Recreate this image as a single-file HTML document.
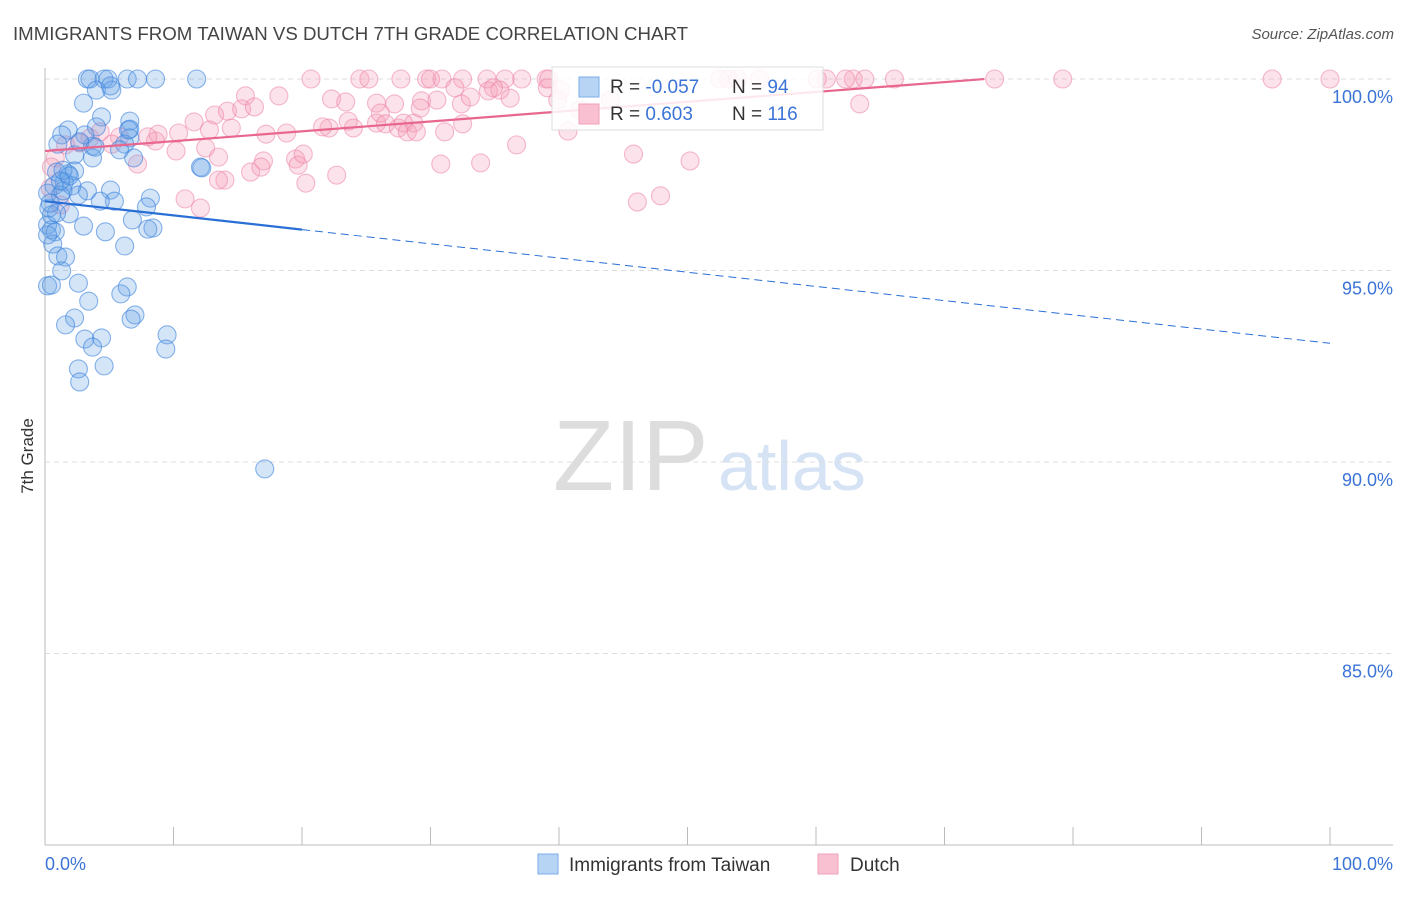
<!DOCTYPE html>
<html><head><meta charset="utf-8"><style>
body{margin:0;background:#fff;font-family:"Liberation Sans",sans-serif}
svg text{font-family:"Liberation Sans",sans-serif}
</style></head><body>
<svg id="chart" width="1406" height="892" xmlns="http://www.w3.org/2000/svg">
<text x="13" y="40" font-size="18" fill="#444" textLength="675" lengthAdjust="spacingAndGlyphs">IMMIGRANTS FROM TAIWAN VS DUTCH 7TH GRADE CORRELATION CHART</text>
<text x="1394" y="39" font-size="15" fill="#555" font-style="italic" text-anchor="end">Source: ZipAtlas.com</text>
<text transform="translate(33,456) rotate(-90)" font-size="17" fill="#333" text-anchor="middle">7th Grade</text>
<g>
<text x="553" y="490" font-size="100" fill="#ddd" font-family="Liberation Serif,serif">ZIP</text>
<text x="718" y="490" font-size="70" fill="#d5e3f5">atlas</text>
</g>
<g id="grid"></g><g id="axes"></g><g id="pts"></g><g id="trends"></g>
<g>
<rect x="552" y="67" width="271" height="63" fill="#fff" fill-opacity="0.85" stroke="#ddd"/>
<rect x="579" y="77" width="20" height="20" fill="#b8d4f5" stroke="#7aaeea"/>
<rect x="579" y="104" width="20" height="20" fill="#f8c0d0" stroke="#f0a0b8"/>
<text x="610" y="93" font-size="19" fill="#333">R = <tspan fill="#3b74d6">-0.057</tspan></text>
<text x="732" y="93" font-size="19" fill="#333">N = <tspan fill="#3b74d6"> 94</tspan></text>
<text x="610" y="120" font-size="19" fill="#333">R = <tspan fill="#3b74d6">  0.603</tspan></text>
<text x="732" y="120" font-size="19" fill="#333">N = <tspan fill="#3b74d6">116</tspan></text>
</g>
<g>
<rect x="538" y="854" width="20" height="20" fill="#b8d4f5" stroke="#7aaeea"/>
<text x="569" y="871" font-size="19" fill="#333">Immigrants from Taiwan</text>
<rect x="818" y="854" width="20" height="20" fill="#f8c0d0" stroke="#f0a0b8"/>
<text x="850" y="871" font-size="19" fill="#333">Dutch</text>
</g>
</svg>
<script>
const yTicks=[100,95,90,85];
const yTickLabels=["100.0%","95.0%","90.0%","85.0%"];
const xTicks=[0,10,20,30,40,50,60,70,80,90,100];
const blueX=[3.3,3.5,4.6,4.9,6.4,7.2,8.6,11.8,4.0,5.2,3.0,4.4,6.6,6.6,1.8,4.0,1.3,3.1,6.6,1.0,3.7,6.2,2.3,3.7,6.9,0.9,1.8,2.3,1.5,2.1,3.3,5.1,0.7,0.2,1.2,1.4,2.6,8.2,5.4,4.3,7.9,1.9,6.8,3.0,4.7,0.2,0.5,0.8,8.4,8.0,0.6,6.2,1.0,1.6,1.3,0.2,0.5,2.6,6.4,3.4,5.9,2.3,1.6,7.0,6.7,9.5,3.1,4.4,3.7,9.4,2.6,4.6,2.7,17.1,12.1,12.2,0.3,0.5,0.9,0.4,0.2,1.4,1.9,1.2,2.7,3.9,5.8,6.5,5.1];
const blueY=[100,100,100,100,100,100,100,100,99.71,99.71,99.37,99.01,98.90,98.69,98.67,98.75,98.54,98.54,98.46,98.30,98.25,98.30,98.02,97.94,97.94,97.57,97.52,97.60,97.31,97.21,97.08,97.10,97.21,97.02,96.97,97.08,96.97,96.89,96.81,96.81,96.66,96.48,96.32,96.16,96.01,96.19,96.06,96.01,96.11,96.08,95.69,95.64,95.38,95.35,94.99,94.60,94.62,94.67,94.57,94.20,94.39,93.76,93.58,93.84,93.73,93.32,93.21,93.24,93.00,92.95,92.43,92.51,92.09,89.82,97.70,97.68,96.63,96.45,96.50,96.76,95.93,97.62,97.47,97.34,98.36,98.22,98.15,98.67,99.82];
const pinkX=[20.7,24.5,25.2,27.7,29.7,30.9,32.5,30.0,34.4,35.8,37.1,39.0,39.2,53.2,60.8,62.9,63.8,66.1,73.9,79.2,95.5,100,52.5,53.9,55.6,60.1,62.3,15.6,18.2,22.3,23.4,25.8,27.2,29.3,30.5,32.4,34.5,35.4,36.2,31.9,34.9,39.9,39.1,13.2,14.2,15.3,16.3,11.6,12.8,14.5,17.2,18.8,10.2,12.5,13.5,17.0,19.5,19.7,20.3,16.0,16.8,22.7,20.1,22.1,21.6,24.0,23.6,25.8,26.1,26.5,27.5,27.9,28.7,28.2,28.9,31.1,29.2,32.5,33.1,36.7,30.8,33.9,40.7,45.8,50.2,46.1,47.9,63.4,10.9,12.1,7.2,8.6,8.8,10.4,8.0,5.8,5.2,4.3,3.5,2.7,1.6,0.8,0.5,0.4,1.2,41.6,44.0,40.1,14.0,13.5];
const pinkY=[100,100,100,100,100,100,100,100,100,100,100,100,100,100,100,100,100,100,100,100,100,100,100,100,100,100,100,99.56,99.56,99.48,99.40,99.37,99.35,99.43,99.45,99.35,99.69,99.71,99.50,99.77,99.77,99.45,99.77,99.06,99.16,99.22,99.27,98.88,98.67,98.72,98.56,98.59,98.12,98.20,97.96,97.86,97.91,97.75,97.28,97.57,97.70,97.49,98.04,98.72,98.75,98.72,98.90,98.85,99.11,98.83,98.72,98.85,98.85,98.62,98.62,98.62,99.24,98.83,99.53,98.28,97.78,97.81,98.64,98.04,97.86,96.79,96.95,99.35,96.87,96.63,97.78,98.38,98.56,98.59,98.49,98.49,98.30,98.62,98.46,98.33,98.28,97.94,97.70,97.15,96.71,99.19,99.45,99.71,97.36,97.36];
const blueTrend=[96.81,-0.0371]; // intercept, slope
const pinkTrend=[98.12,0.0257];
const sx=v=>45+v*12.85, sy=v=>79+(100-v)*38.3;
const NS="http://www.w3.org/2000/svg";
function mk(tag,parent,attrs){const e=document.createElementNS(NS,tag);for(const k in attrs)e.setAttribute(k,attrs[k]);document.getElementById(parent).appendChild(e);return e;}
yTicks.forEach((t,i)=>{
  const g=mk('line','grid',{x1:45,x2:1393,y1:sy(t),y2:sy(t),stroke:'#ddd','stroke-dasharray':'5,4'});
  
  
  const l=mk('text','grid',{x:1393,y:sy(t)+24,'font-size':18,fill:'#3b74d6','text-anchor':'end'});
  l.textContent=yTickLabels[i];
  
  
});
const ax=mk('line','axes',{x1:45,x2:45,y1:68,y2:845,stroke:'#bbb'});


const bx=mk('line','axes',{x1:45,x2:1393,y1:845,y2:845,stroke:'#bbb'});


xTicks.forEach(t=>{
  const k=mk('line','axes',{x1:sx(t),x2:sx(t),y1:827,y2:845,stroke:'#bbb'});
  
  
});
[["0.0%",45,'start'],["100.0%",1393,'end']].forEach(a=>{
  const l=mk('text','axes',{x:a[1],y:870,'font-size':18,fill:'#3b74d6','text-anchor':a[2]});
  l.textContent=a[0];
  
  
});
pinkX.forEach((x,i)=>{
  const c=mk('circle','pts',{cx:sx(x),cy:sy(pinkY[i]),r:9,fill:'rgba(245,160,185,0.3)',stroke:'rgba(236,130,165,0.55)','stroke-width':1.1});
  
  
});
blueX.forEach((x,i)=>{
  const c=mk('circle','pts',{cx:sx(x),cy:sy(blueY[i]),r:9,fill:'rgba(100,160,230,0.28)',stroke:'rgba(60,130,220,0.6)','stroke-width':1.1});
  
  
});
const bf=x=>blueTrend[0]+blueTrend[1]*x, pf=x=>pinkTrend[0]+pinkTrend[1]*x;
const b1=mk('line','trends',{x1:sx(0),y1:sy(bf(0)),x2:sx(20),y2:sy(bf(20)),stroke:'#2a6fd6','stroke-width':2.2});


const b2=mk('line','trends',{x1:sx(20),y1:sy(bf(20)),x2:sx(100),y2:sy(bf(100)),stroke:'#2a6fd6','stroke-width':1,'stroke-dasharray':'8,5'});


const p1=mk('line','trends',{x1:sx(0),y1:sy(pf(0)),x2:sx(73.1),y2:sy(pf(73.1)),stroke:'#e8678f','stroke-width':2.2});


</script>
</body></html>
